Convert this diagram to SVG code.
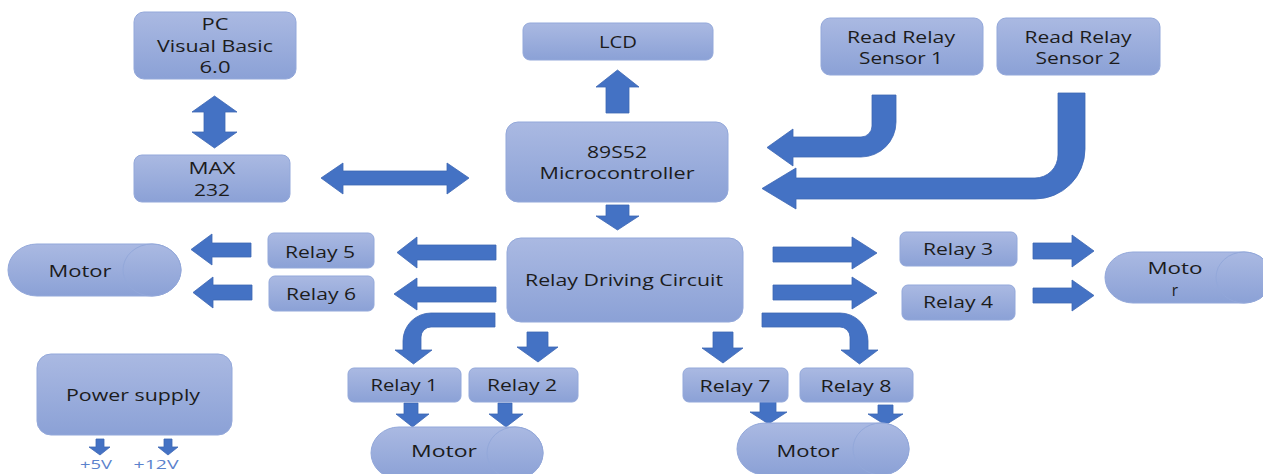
<svg xmlns="http://www.w3.org/2000/svg" width="1263" height="474" viewBox="0 0 1263 474">
<defs>
<linearGradient id="bx" x1="0" y1="0" x2="0" y2="1">
<stop offset="0" stop-color="#aab9e2"/>
<stop offset="1" stop-color="#8ba1d6"/>
</linearGradient>
<style>
.box{fill:url(#bx);stroke:#93a8da;stroke-width:1}
.arr{fill:#4472c4;stroke:#3d67b4;stroke-width:0.8}
.t{font-family:"Open Sans","Liberation Sans",sans-serif;font-size:15.5px;fill:#1c1c1c;text-anchor:middle}
.v{font-family:"Open Sans","Liberation Sans",sans-serif;font-size:12.5px;fill:#5b82cc;text-anchor:middle}
</style>
</defs>
<rect width="1263" height="474" fill="#ffffff"/>

<g id="connectors">
<path class="arr" d="M214.5,96 L237,112 L225,112 L225,132 L237,132 L214.5,148 L192,132 L204,132 L204,112 L192,112 Z"/>
<path class="arr" d="M321,178 L343,163 L343,171 L447,171 L447,163 L469,178 L447,194 L447,185 L343,185 L343,194 Z"/>
<path class="arr" d="M617.5,70 L639,87 L629,87 L629,113 L606,113 L606,87 L596,87 Z"/>
<path class="arr" d="M606,205 L629,205 L629,216 L639,216 L617.5,230 L596,216 L606,216 Z"/>
<path class="arr" d="M872,95 L896,95 L896,122 A35,35 0 0 1 861,157 L793,157 L793,166 L767,147.5 L793,129 L793,137 L861,137 A11,11 0 0 0 872,126 Z"/>
<path class="arr" d="M1058,93 L1085,93 L1085,149 A50,50 0 0 1 1035,199 L796,199 L796,209 L762,188.5 L796,168 L796,178 L1035,178 A23,23 0 0 0 1058,155 Z"/>
<path class="arr" d="M397,252.5 L417,237 L417,245 L496,245 L496,260 L417,260 L417,268 Z"/>
<path class="arr" d="M394,294 L417,278 L417,287 L496,287 L496,302 L417,302 L417,310 Z"/>
<path class="arr" d="M191,249.5 L212,234 L212,243 L251,243 L251,257 L212,257 L212,265 Z"/>
<path class="arr" d="M193,292.5 L213,277 L213,285 L252,285 L252,300 L213,300 L213,308 Z"/>
<path class="arr" d="M773,247 L852,247 L852,237 L877,253 L852,269 L852,262 L773,262 Z"/>
<path class="arr" d="M773,285 L852,285 L852,277 L877,293 L852,309 L852,300 L773,300 Z"/>
<path class="arr" d="M1033,243 L1072,243 L1072,235 L1094,251 L1072,267 L1072,259 L1033,259 Z"/>
<path class="arr" d="M1033,288 L1072,288 L1072,280 L1094,295.5 L1072,311 L1072,303 L1033,303 Z"/>
<path class="arr" d="M495,313 L495,327 L431,327 A10,10 0 0 0 421,337 L421,350 L432,350 L413.5,364 L395,350 L403,350 L403,341 A28,28 0 0 1 431,313 Z"/>
<path class="arr" d="M527,332 L548,332 L548,347 L558,347 L538,362 L517,347 L527,347 Z"/>
<path class="arr" d="M713,332 L733,332 L733,348 L743,348 L723,363 L702,348 L713,348 Z"/>
<path class="arr" d="M762,313 L840,313 A28,28 0 0 1 868,341 L868,350 L878,350 L859.5,364 L841,350 L850,350 L850,337 A10,10 0 0 0 840,327 L762,327 Z"/>
<path class="arr" d="M404,403 L418,403 L418,414 L429,414 L412.5,427 L396,414 L404,414 Z"/>
<path class="arr" d="M498,403 L512,403 L512,414 L523,414 L506,427 L489,414 L498,414 Z"/>
<path class="arr" d="M760,400 L776,400 L776,412 L787,412 L768.5,424 L750,412 L760,412 Z"/>
<path class="arr" d="M878,405 L893,405 L893,414 L903,414 L885.5,425 L868,414 L878,414 Z"/>
<path class="arr" d="M96,439 L104,439 L104,447 L110,447 L100,455 L89,447 L96,447 Z"/>
<path class="arr" d="M164,439 L172,439 L172,447 L178,447 L168,455 L158,447 L164,447 Z"/>
</g>

<g id="pc">
<rect class="box" x="134" y="12" width="162" height="67" rx="10"/>
<text class="t" x="215" y="30" textLength="27" lengthAdjust="spacingAndGlyphs">PC</text>
<text class="t" x="215" y="51.5" textLength="116" lengthAdjust="spacingAndGlyphs">Visual Basic</text>
<text class="t" x="215" y="72.5" textLength="31" lengthAdjust="spacingAndGlyphs">6.0</text>
</g>
<g id="max232">
<rect class="box" x="134" y="155" width="156" height="47" rx="8"/>
<text class="t" x="212" y="173.5" textLength="47" lengthAdjust="spacingAndGlyphs">MAX</text>
<text class="t" x="212" y="195.5" textLength="36" lengthAdjust="spacingAndGlyphs">232</text>
</g>
<g id="lcd">
<rect class="box" x="523" y="23" width="190" height="37" rx="7"/>
<text class="t" x="618" y="47.5" textLength="38" lengthAdjust="spacingAndGlyphs">LCD</text>
</g>
<g id="micro">
<rect class="box" x="506" y="122" width="222" height="80" rx="12"/>
<text class="t" x="617" y="157.5" textLength="60" lengthAdjust="spacingAndGlyphs">89S52</text>
<text class="t" x="617" y="178.5" textLength="155" lengthAdjust="spacingAndGlyphs">Microcontroller</text>
</g>
<g id="sensor1">
<rect class="box" x="821" y="18" width="162" height="57" rx="9"/>
<text class="t" x="901" y="42.5" textLength="108" lengthAdjust="spacingAndGlyphs">Read Relay</text>
<text class="t" x="901" y="63.5" textLength="84" lengthAdjust="spacingAndGlyphs">Sensor 1</text>
</g>
<g id="sensor2">
<rect class="box" x="997" y="18" width="163" height="57" rx="9"/>
<text class="t" x="1078" y="42.5" textLength="107" lengthAdjust="spacingAndGlyphs">Read Relay</text>
<text class="t" x="1078" y="63.5" textLength="85" lengthAdjust="spacingAndGlyphs">Sensor 2</text>
</g>
<g id="rdc">
<rect class="box" x="507" y="238" width="236" height="84" rx="14"/>
<text class="t" x="624" y="285.5" textLength="198" lengthAdjust="spacingAndGlyphs">Relay Driving Circuit</text>
</g>
<g id="relay5">
<rect class="box" x="268" y="233" width="106" height="35" rx="6"/>
<text class="t" x="320" y="257.5" textLength="70" lengthAdjust="spacingAndGlyphs">Relay 5</text>
</g>
<g id="relay6">
<rect class="box" x="269" y="276" width="105" height="35" rx="6"/>
<text class="t" x="321" y="299.5" textLength="70" lengthAdjust="spacingAndGlyphs">Relay 6</text>
</g>
<g id="relay3">
<rect class="box" x="900" y="232" width="117" height="34" rx="6"/>
<text class="t" x="958" y="254.5" textLength="70" lengthAdjust="spacingAndGlyphs">Relay 3</text>
</g>
<g id="relay4">
<rect class="box" x="902" y="285" width="113" height="35" rx="6"/>
<text class="t" x="958" y="307.5" textLength="70" lengthAdjust="spacingAndGlyphs">Relay 4</text>
</g>
<g id="relay1">
<rect class="box" x="348" y="368" width="113" height="34" rx="6"/>
<text class="t" x="404" y="390.5" textLength="67" lengthAdjust="spacingAndGlyphs">Relay 1</text>
</g>
<g id="relay2">
<rect class="box" x="469" y="368" width="109" height="34" rx="6"/>
<text class="t" x="522" y="390.5" textLength="70" lengthAdjust="spacingAndGlyphs">Relay 2</text>
</g>
<g id="relay7">
<rect class="box" x="683" y="368" width="105" height="34" rx="6"/>
<text class="t" x="735" y="391.5" textLength="71" lengthAdjust="spacingAndGlyphs">Relay 7</text>
</g>
<g id="relay8">
<rect class="box" x="800" y="368" width="113" height="34" rx="6"/>
<text class="t" x="856" y="391.5" textLength="71" lengthAdjust="spacingAndGlyphs">Relay 8</text>
</g>
<g id="power">
<rect class="box" x="37" y="354" width="195" height="81" rx="14"/>
<text class="t" x="133" y="400.5" textLength="134" lengthAdjust="spacingAndGlyphs">Power supply</text>
<text class="v" x="96" y="469" textLength="32" lengthAdjust="spacingAndGlyphs">+5V</text>
<text class="v" x="156" y="469" textLength="45" lengthAdjust="spacingAndGlyphs">+12V</text>
</g>
<g id="motor-left">
<path class="box" d="M37,244 L152,244 A29,26 0 0 1 152,296 L37,296 A29,26 0 0 1 37,244 Z"/>
<ellipse class="box" cx="152" cy="270" rx="29" ry="26"/>
<text class="t" x="80" y="276.5" textLength="63" lengthAdjust="spacingAndGlyphs">Motor</text>
</g>
<g id="motor-right">
<path class="box" d="M1133,252 L1244,252 A28,25.5 0 0 1 1244,303 L1133,303 A28,25.5 0 0 1 1133,252 Z"/>
<ellipse class="box" cx="1244" cy="277.5" rx="28" ry="25.5"/>
<text class="t" x="1175" y="273.5" textLength="55" lengthAdjust="spacingAndGlyphs">Moto</text>
<text class="t" x="1175" y="295.5">r</text>
</g>
<g id="motor-bottom-left">
<path class="box" d="M399,427 L515,427 A28,26 0 0 1 515,479 L399,479 A28,26 0 0 1 399,427 Z"/>
<ellipse class="box" cx="515" cy="453" rx="28" ry="26"/>
<text class="t" x="444" y="457" textLength="66" lengthAdjust="spacingAndGlyphs">Motor</text>
</g>
<g id="motor-bottom-right">
<path class="box" d="M765,423 L881,423 A28,26 0 0 1 881,475 L765,475 A28,26 0 0 1 765,423 Z"/>
<ellipse class="box" cx="881" cy="449" rx="28" ry="26"/>
<text class="t" x="808" y="456.5" textLength="63" lengthAdjust="spacingAndGlyphs">Motor</text>
</g>
</svg>
